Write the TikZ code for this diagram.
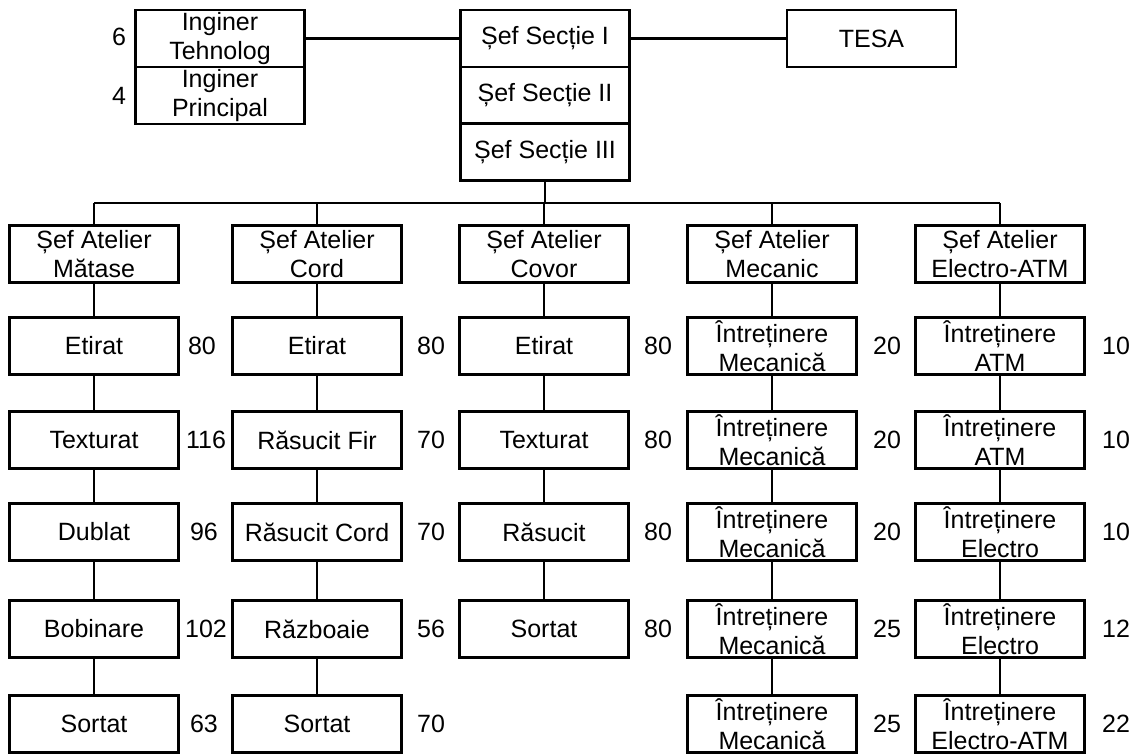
\documentclass[tikz,border=0pt]{standalone}
\usepackage{fontspec}
\setmainfont{Liberation Sans}

\begin{document}
\begin{tikzpicture}[x=0.5pt, y=-0.5pt, line width=1.1pt,
    box/.style={draw, minimum width=84.5pt, minimum height=28.5pt, inner sep=0pt,
        align=center, font=\fontsize{12.5}{14.5}\selectfont},
    num/.style={inner sep=0pt, font=\fontsize{12.5}{14.5}\selectfont}]
    \useasboundingbox (0,0) rectangle (1131,754);

    % Conducere
    \node[box] (ingt) at (220,38.5) {Inginer\\Tehnolog};
    \node[box] (ingp) at (220,95.5) {Inginer\\Principal};
    \node[num] (n6) at (119,37) {6};
    \node[num] (n4) at (119,96) {4};
    \node[box] (sef1) at (545,38.5) {Șef Secție I};
    \node[box] (sef2) at (545,95.5) {Șef Secție II};
    \node[box] (sef3) at (545,152) {Șef Secție III};
    \node[box] (tesa) at (871.5,38.5) {TESA};
    \draw (ingt) -- (sef1);
    \draw (sef1) -- (tesa);

    % Sefi de atelier
    \node[box] (at1) at (94,254) {Șef Atelier\\Mătase};
    \node[box] (at2) at (317,254) {Șef Atelier\\Cord};
    \node[box] (at3) at (544,254) {Șef Atelier\\Covor};
    \node[box] (at4) at (772,254) {Șef Atelier\\Mecanic};
    \node[box] (at5) at (1000,254) {Șef Atelier\\Electro-ATM};
    \coordinate (bus) at (545,203);
    \draw (sef3) -- (bus);
    \draw (at1.north |- bus) -- (at5.north |- bus);
    \draw (at1.north) -- (at1.north |- bus);
    \draw (at2.north) -- (at2.north |- bus);
    \draw (at3.north) -- (at3.north |- bus);
    \draw (at4.north) -- (at4.north |- bus);
    \draw (at5.north) -- (at5.north |- bus);

    % Atelier Matase
    \node[box] (mat1) at (94,346) {Etirat};
    \node[box] (mat2) at (94,440) {Texturat};
    \node[box] (mat3) at (94,532) {Dublat};
    \node[box] (mat4) at (94,629) {Bobinare};
    \node[box] (mat5) at (94,724) {Sortat};
    \node[num] at ([xshift=54pt]mat1.center) {80};
    \node[num] at ([xshift=56pt]mat2.center) {116};
    \node[num] at ([xshift=55pt]mat3.center) {96};
    \node[num] at ([xshift=56pt]mat4.center) {102};
    \node[num] at ([xshift=55pt]mat5.center) {63};
    \draw (at1) -- (mat1) (mat1) -- (mat2) (mat2) -- (mat3) (mat3) -- (mat4) (mat4) -- (mat5);

    % Atelier Cord
    \node[box] (cord1) at (317,346) {Etirat};
    \node[box] (cord2) at (317,440) {Răsucit Fir};
    \node[box] (cord3) at (317,532) {Răsucit Cord};
    \node[box] (cord4) at (317,629) {Războaie};
    \node[box] (cord5) at (317,724) {Sortat};
    \node[num] at ([xshift=57pt]cord1.center) {80};
    \node[num] at ([xshift=57pt]cord2.center) {70};
    \node[num] at ([xshift=57pt]cord3.center) {70};
    \node[num] at ([xshift=57pt]cord4.center) {56};
    \node[num] at ([xshift=57pt]cord5.center) {70};
    \draw (at2) -- (cord1) (cord1) -- (cord2) (cord2) -- (cord3) (cord3) -- (cord4) (cord4) -- (cord5);

    % Atelier Covor
    \node[box] (cov1) at (544,346) {Etirat};
    \node[box] (cov2) at (544,440) {Texturat};
    \node[box] (cov3) at (544,532) {Răsucit};
    \node[box] (cov4) at (544,629) {Sortat};
    \node[num] at ([xshift=57pt]cov1.center) {80};
    \node[num] at ([xshift=57pt]cov2.center) {80};
    \node[num] at ([xshift=57pt]cov3.center) {80};
    \node[num] at ([xshift=57pt]cov4.center) {80};
    \draw (at3) -- (cov1) (cov1) -- (cov2) (cov2) -- (cov3) (cov3) -- (cov4);

    % Atelier Mecanic
    \node[box] (mec1) at (772,346) {Întreținere\\Mecanică};
    \node[box] (mec2) at (772,440) {Întreținere\\Mecanică};
    \node[box] (mec3) at (772,532) {Întreținere\\Mecanică};
    \node[box] (mec4) at (772,629) {Întreținere\\Mecanică};
    \node[box] (mec5) at (772,724) {Întreținere\\Mecanică};
    \node[num] at ([xshift=57.5pt]mec1.center) {20};
    \node[num] at ([xshift=57.5pt]mec2.center) {20};
    \node[num] at ([xshift=57.5pt]mec3.center) {20};
    \node[num] at ([xshift=57.5pt]mec4.center) {25};
    \node[num] at ([xshift=57.5pt]mec5.center) {25};
    \draw (at4) -- (mec1) (mec1) -- (mec2) (mec2) -- (mec3) (mec3) -- (mec4) (mec4) -- (mec5);

    % Atelier Electro-ATM
    \node[box] (el1) at (1000,346) {Întreținere\\ATM};
    \node[box] (el2) at (1000,440) {Întreținere\\ATM};
    \node[box] (el3) at (1000,532) {Întreținere\\Electro};
    \node[box] (el4) at (1000,629) {Întreținere\\Electro};
    \node[box] (el5) at (1000,724) {Întreținere\\Electro-ATM};
    \node[num] at ([xshift=58pt]el1.center) {10};
    \node[num] at ([xshift=58pt]el2.center) {10};
    \node[num] at ([xshift=58pt]el3.center) {10};
    \node[num] at ([xshift=58pt]el4.center) {12};
    \node[num] at ([xshift=58pt]el5.center) {22};
    \draw (at5) -- (el1) (el1) -- (el2) (el2) -- (el3) (el3) -- (el4) (el4) -- (el5);
\end{tikzpicture}
\end{document}
